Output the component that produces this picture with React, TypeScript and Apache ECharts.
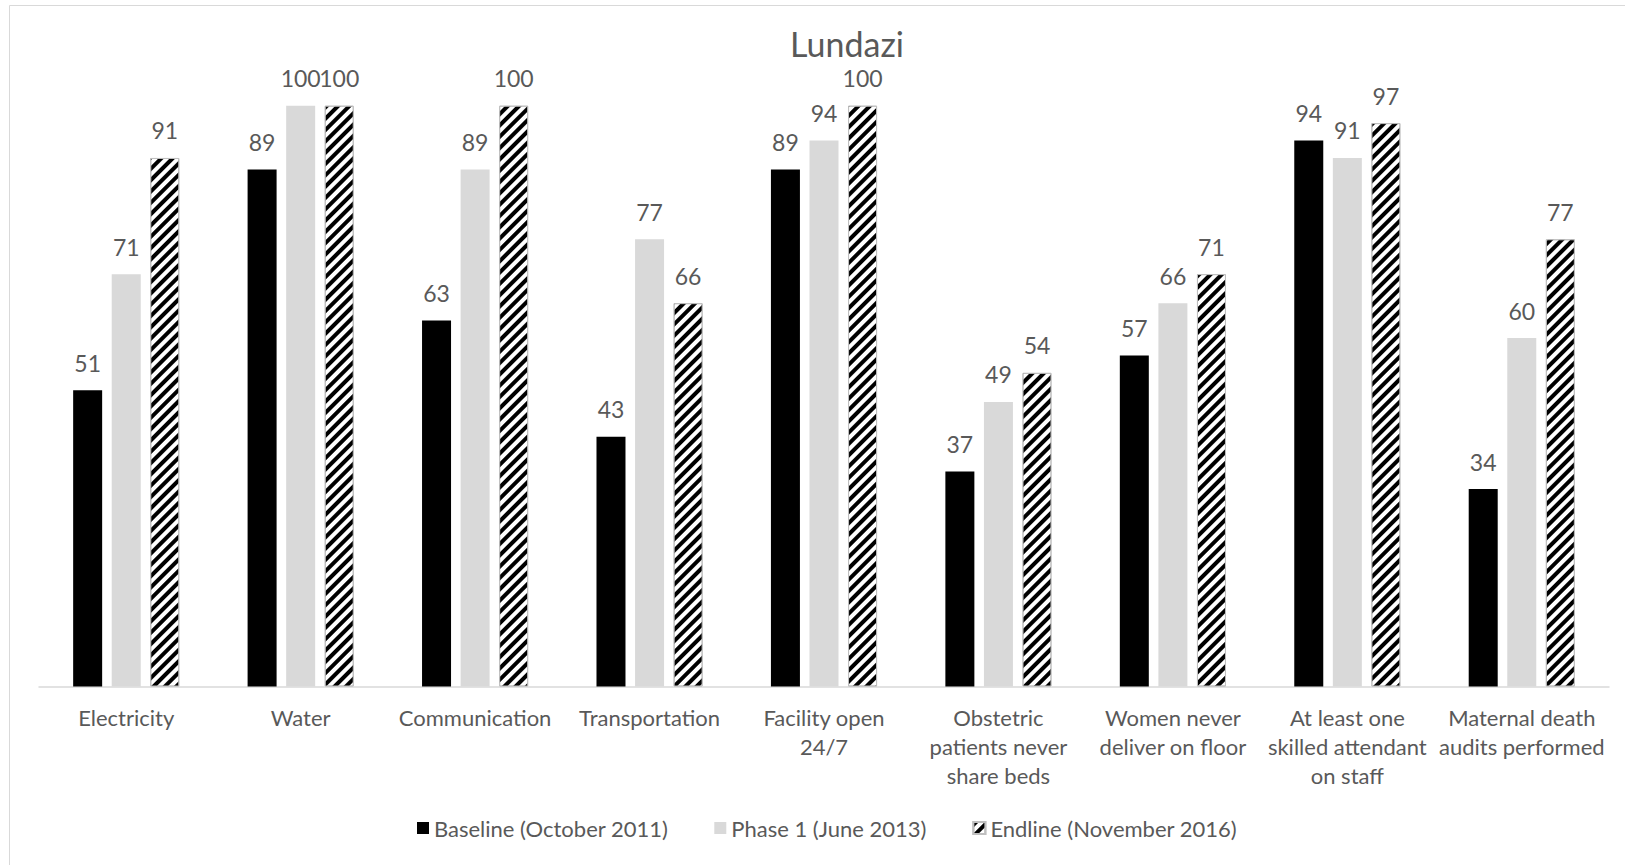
import React, { useEffect, useRef } from "react";
import * as echarts from "echarts";

const categories: string[] = [
  "Electricity",
  "Water",
  "Communication",
  "Transportation",
  "Facility open\n24/7",
  "Obstetric\npatients never\nshare beds",
  "Women never\ndeliver on floor",
  "At least one\nskilled attendant\non staff",
  "Maternal death\naudits performed",
];

const seriesNames: string[] = [
  "Baseline (October 2011)",
  "Phase 1 (June 2013)",
  "Endline (November 2016)",
];

const baseline: number[] = [51, 89, 63, 43, 89, 37, 57, 94, 34];
const phase1: number[] = [71, 100, 89, 77, 94, 49, 66, 91, 60];
const endline: number[] = [91, 100, 100, 66, 100, 54, 71, 97, 77];

const chartTitle = "Lundazi";

const FONT = "Lato, 'Open Sans', sans-serif";
const TEXT = "#595959";

export default function App() {
  const ref = useRef<HTMLDivElement>(null);

  useEffect(() => {
    document.body.style.margin = "0";
    if (!ref.current) return;
    const chart = echarts.init(ref.current, undefined, { renderer: "svg" });

    const label = {
      show: true,
      position: "top" as const,
      distance: 16,
      color: TEXT,
      fontSize: 23,
      lineHeight: 23,
      fontFamily: FONT,
    };

    chart.setOption({
      animation: false,
      backgroundColor: "#ffffff",
      textStyle: { fontFamily: FONT },
      graphic: [
        {
          type: "rect",
          shape: { x: 9.5, y: 5.5, width: 1700, height: 900 },
          style: { fill: "none", stroke: "#d9d9d9", lineWidth: 1 },
          silent: true,
          z: -10,
        },
        {
          type: "text",
          x: 847,
          y: 43,
          style: {
            text: chartTitle,
            align: "center",
            verticalAlign: "middle",
            fontSize: 34,
            lineHeight: 28,
            fill: TEXT,
            fontFamily: FONT,
          },
        },
      ],
      grid: { left: 39, right: 16, top: 105.7, bottom: 178.5, containLabel: false },
      legend: {
        data: seriesNames,
        left: 412,
        top: 812,
        itemWidth: 12,
        itemHeight: 12,
        itemGap: 46,
        icon: "rect",
        textStyle: { color: TEXT, fontSize: 22, fontFamily: FONT },
      },
      xAxis: {
        type: "category",
        data: categories,
        axisLine: { show: true, lineStyle: { color: "#d9d9d9", width: 1.5 } },
        axisTick: { show: false },
        axisLabel: {
          interval: 0,
          color: TEXT,
          fontSize: 22,
          fontFamily: FONT,
          lineHeight: 29,
          margin: 16,
        },
      },
      yAxis: {
        type: "value",
        min: 0,
        max: 100,
        show: false,
        splitLine: { show: false },
      },
      series: [
        {
          name: seriesNames[0],
          type: "bar",
          data: baseline,
          barWidth: 29,
          barGap: "33%",
          itemStyle: { color: "#000000" },
          label,
        },
        {
          name: seriesNames[1],
          type: "bar",
          data: phase1,
          barWidth: 29,
          barGap: "33%",
          itemStyle: { color: "#d9d9d9" },
          label,
        },
        {
          name: seriesNames[2],
          type: "bar",
          data: endline,
          barWidth: 29,
          barGap: "33%",
          itemStyle: {
            color: "#ffffff",
            borderColor: "#bfbfbf",
            borderWidth: 1,
            decal: {
              symbol: "rect",
              symbolSize: 1,
              color: "#000000",
              backgroundColor: "#ffffff",
              dashArrayX: [1, 0],
              dashArrayY: [4, 4],
              rotation: -Math.PI / 4,
            },
          },
          label,
        },
      ],
    });

    return () => chart.dispose();
  }, []);

  return <div ref={ref} style={{ width: 1625, height: 865 }} />;
}
